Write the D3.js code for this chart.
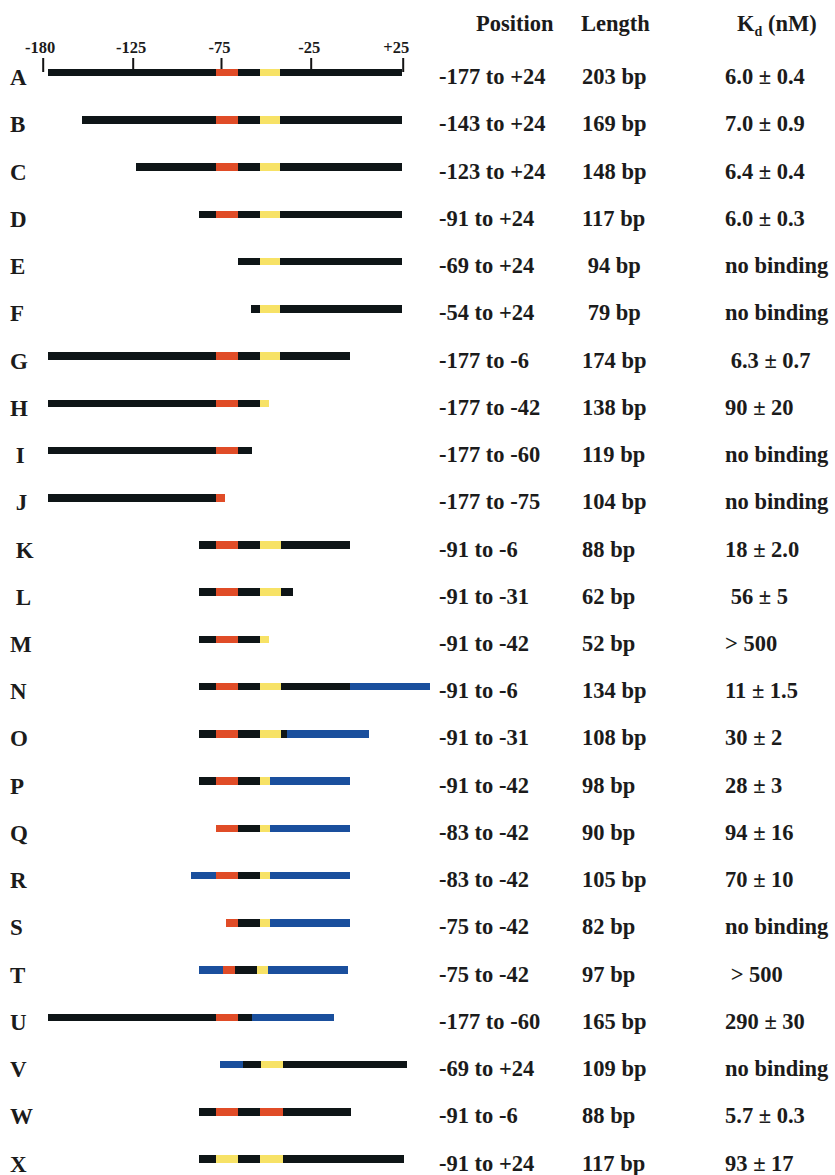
<!DOCTYPE html>
<html>
<head>
<meta charset="utf-8">
<script src="https://cdn.jsdelivr.net/npm/d3@7"></script>
<style>
  html, body { margin: 0; padding: 0; background: #ffffff; }
  svg text {
    font-family: "Liberation Serif", "Times New Roman", Times, serif;
    font-weight: bold;
    fill: #1b1b1b;
    white-space: pre;
  }
</style>
</head>
<body>
<svg id="fig" width="835" height="1175"></svg>
<script>
// Promoter deletion constructs A–X
const constructs = ["A","B","C","D","E","F","G","H","I","J","K","L",
                    "M","N","O","P","Q","R","S","T","U","V","W","X"];
const rowLabels  = ["A","B","C","D","E","F","G","H"," I"," J"," K"," L",
                    "M","N","O","P","Q","R","S","T","U","V","W","X"];

// Axis ticks (position relative to transcription start)
const tickValues = [-180, -125, -75, -25, 25];
const tickLabels = ["-180", "-125", "-75", "-25", "+25"];

// Segment boundaries of each construct, in axis units
const breakpoints = [
  [-177, -78, -65.5, -53.5, -42, 24.5],          // A
  [-156, -78, -65.5, -53.5, -42, 24.5],          // B
  [-123, -78, -65.5, -53.5, -42, 24.5],          // C
  [-87.5, -78, -65.5, -53.5, -42, 24.5],         // D
  [-65.5, -53.5, -42, 24.5],                     // E
  [-58, -53.5, -42, 24.5],                       // F
  [-177, -78, -65.5, -53.5, -42, -3.5],          // G
  [-177, -78, -65.5, -53.5, -48],                // H
  [-177, -78, -65.5, -57.5],                     // I
  [-177, -78, -73],                              // J
  [-87.5, -78, -65.5, -53.5, -41.5, -3.5],       // K
  [-87.5, -78, -65.5, -53.5, -41.5, -35],        // L
  [-87.5, -78, -65.5, -53.5, -48],               // M
  [-87.5, -78, -65.5, -53.5, -41.5, -3.5, 40],   // N
  [-87.5, -78, -65.5, -53.5, -41.5, -38, 6.5],   // O
  [-87.5, -78, -65.5, -53.5, -47.5, -3.5],       // P
  [-78, -65.5, -53.5, -47.5, -3.5],              // Q
  [-92, -78, -65.5, -53.5, -47.5, -3.5],         // R
  [-72, -65.5, -53.5, -47.5, -3.5],              // S
  [-87.5, -74, -67, -55, -49, -4.5],             // T
  [-177, -78, -65.5, -57.5, -12.5],              // U
  [-75.5, -62.5, -52.5, -40.5, 27.5],            // V
  [-87.5, -78, -65.5, -53, -40.5, -3],           // W
  [-87.5, -78, -65.5, -53, -40.5, 25.5]          // X
];

// Segment kinds: k = native sequence, r = red element, y = yellow element, b = vector sequence
const segmentKinds = [
  ["k","r","k","y","k"],      // A
  ["k","r","k","y","k"],      // B
  ["k","r","k","y","k"],      // C
  ["k","r","k","y","k"],      // D
  ["k","y","k"],              // E
  ["k","y","k"],              // F
  ["k","r","k","y","k"],      // G
  ["k","r","k","y"],          // H
  ["k","r","k"],              // I
  ["k","r"],                  // J
  ["k","r","k","y","k"],      // K
  ["k","r","k","y","k"],      // L
  ["k","r","k","y"],          // M
  ["k","r","k","y","k","b"],  // N
  ["k","r","k","y","k","b"],  // O
  ["k","r","k","y","b"],      // P
  ["r","k","y","b"],          // Q
  ["b","r","k","y","b"],      // R
  ["r","k","y","b"],          // S
  ["b","r","k","y","b"],      // T
  ["k","r","k","b"],          // U
  ["b","k","y","k"],          // V
  ["k","r","k","r","k"],      // W
  ["k","y","k","y","k"]       // X
];

// Table columns
const positions = ["-177 to +24","-143 to +24","-123 to +24","-91 to +24","-69 to +24","-54 to +24",
                   "-177 to -6","-177 to -42","-177 to -60","-177 to -75","-91 to -6","-91 to -31",
                   "-91 to -42","-91 to -6","-91 to -31","-91 to -42","-83 to -42","-83 to -42",
                   "-75 to -42","-75 to -42","-177 to -60","-69 to +24","-91 to -6","-91 to +24"];
const lengths   = ["203 bp","169 bp","148 bp","117 bp"," 94 bp"," 79 bp",
                   "174 bp","138 bp","119 bp","104 bp","88 bp","62 bp",
                   "52 bp","134 bp","108 bp","98 bp","90 bp","105 bp",
                   "82 bp","97 bp","165 bp","109 bp","88 bp","117 bp"];
const kdValues  = ["6.0 ± 0.4","7.0 ± 0.9","6.4 ± 0.4","6.0 ± 0.3","no binding","no binding",
                   " 6.3 ± 0.7","90 ± 20","no binding","no binding","18 ± 2.0"," 56 ± 5",
                   "> 500","11 ± 1.5","30 ± 2","28 ± 3","94 ± 16","70 ± 10",
                   "no binding"," > 500","290 ± 30","no binding","5.7 ± 0.3","93 ± 17"];

const kindColor = d3.scaleOrdinal()
  .domain(["k", "r", "y", "b"])
  .range(["#0e1517", "#e04c27", "#f7e266", "#1a4f9d"]);

const svg = d3.select("#fig");

// Horizontal position scale: ticks spaced as on the printed ruler
const x = d3.scaleLinear()
  .domain(tickValues)
  .range([42.7, 132.7, 221, 310.7, 402.7]);

// Row positions
const y = d3.scalePoint()
  .domain(constructs)
  .range([72.7, 1159]);

const barH = 7.5;

// Ruler across the top
const axis = d3.axisTop(x)
  .tickValues(tickValues)
  .tickFormat((d, i) => tickLabels[i])
  .tickSize(14)
  .tickPadding(5);

const axisG = svg.append("g")
  .attr("transform", "translate(0,72)")
  .call(axis);
axisG.select(".domain").remove();
axisG.attr("font-family", null).attr("font-size", null);
axisG.selectAll(".tick line")
  .attr("stroke", "#141414")
  .attr("stroke-width", 2);
axisG.selectAll(".tick text")
  .attr("fill", "#1b1b1b")
  .style("font-size", "16.5px");
axisG.selectAll(".tick text")
  .attr("dx", (d, i) => i === 0 ? -3 : (i === tickValues.length - 1 ? -7 : -2));

// Construct bars
const rowG = svg.append("g").selectAll("g.row")
  .data(constructs)
  .join("g")
  .attr("class", "row")
  .attr("transform", d => `translate(0,${y(d)})`);

rowG.selectAll("rect")
  .data((d, i) => d3.pairs(breakpoints[i]).map((p, j) => ({ x0: p[0], x1: p[1], kind: segmentKinds[i][j] })))
  .join("rect")
  .attr("x", s => x(s.x0))
  .attr("width", s => x(s.x1) - x(s.x0))
  .attr("y", -barH / 2)
  .attr("height", barH)
  .attr("fill", s => kindColor(s.kind))
  .attr("shape-rendering", "crispEdges");

// Row letters
svg.append("g").selectAll("text")
  .data(rowLabels)
  .join("text")
  .attr("x", 10)
  .attr("y", (d, i) => y(constructs[i]) + 12.5)
  .style("font-size", "23px")
  .text(d => d);

// Table columns
const columns = [
  { values: positions, x: 439 },
  { values: lengths,   x: 582 },
  { values: kdValues,  x: 725 }
];
columns.forEach(col => {
  svg.append("g").selectAll("text")
    .data(col.values)
    .join("text")
    .attr("x", col.x)
    .attr("y", (d, i) => y(constructs[i]) + 11.5)
    .style("font-size", "22.5px")
    .text(d => d);
});

// Column headers
const headerY = 31;
svg.append("text").attr("x", 476).attr("y", headerY).style("font-size", "22.5px").text("Position");
svg.append("text").attr("x", 581).attr("y", headerY).style("font-size", "22.5px").text("Length");
const kd = svg.append("text").attr("x", 737).attr("y", headerY).style("font-size", "22.5px");
kd.append("tspan").text("K");
kd.append("tspan").attr("dy", 5).style("font-size", "14px").text("d");
kd.append("tspan").attr("dy", -5).text(" (nM)");
</script>
</body>
</html>
